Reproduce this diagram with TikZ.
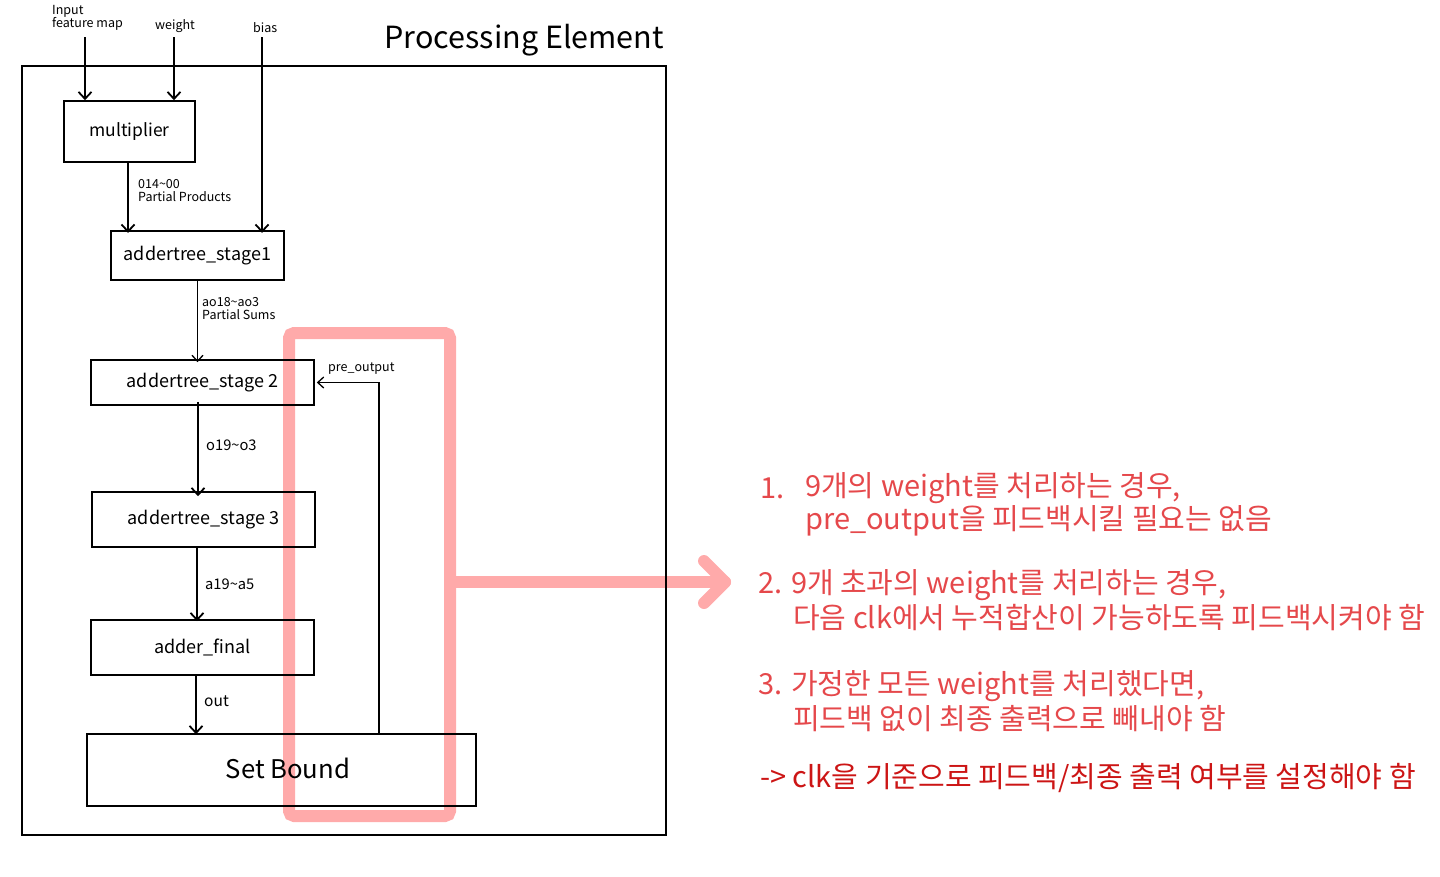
\documentclass[tikz,border=0pt]{standalone}
\usepackage{fontspec}
\setmainfont{Noto Sans CJK KR}
\usetikzlibrary{arrows.meta}
\definecolor{pinkhl}{HTML}{FFAAAA}
\definecolor{notered}{HTML}{E5484B}
\definecolor{darkred}{HTML}{CC1515}
\tikzset{
  blk/.style={draw=black, line width=1.6pt, inner sep=0pt, font=\fontsize{18}{21}\selectfont},
  arr/.style={line width=1.8pt, -{Straight Barb[length=7pt,width=13pt,line width=1.8pt]}},
  thinarr/.style={line width=1.3pt, -{Straight Barb[length=6pt,width=11pt,line width=1.3pt]}},
  lbl/.style={font=\fontsize{12.5}{14}\selectfont, anchor=west, inner sep=0pt, align=left},
  inlbl/.style={font=\fontsize{12.5}{14}\selectfont, inner sep=0pt, align=left},
  midlbl/.style={font=\fontsize{14.7}{16}\selectfont, anchor=west, inner sep=0pt},
  note/.style={font=\fontsize{29}{33}\selectfont, text=notered, anchor=west, inner sep=0pt},
  hl/.style={draw=pinkhl, line width=12pt, line cap=round, line join=round}
}
\begin{document}
\begin{tikzpicture}[x=1pt,y=-1pt]
\useasboundingbox (0,0) rectangle (1440,876);
% highlight (under black)
\node[draw=pinkhl, line width=12pt, rounded corners=5pt, minimum width=161pt, minimum height=483pt, inner sep=0pt] (hlbox) at (369.5,574.5) {};
\coordinate (hlS) at (456,582);
\coordinate (hlT) at (725,582);
\draw[hl] (hlS) -- (hlT);
\draw[hl] (704,561) -- (hlT) -- (704,603);
% outer frame
\node[draw=black, line width=1.8pt, minimum width=644pt, minimum height=769pt, inner sep=0pt] (pe) at (344,450.5) {};
\node[font=\fontsize{30.5}{33}\selectfont, anchor=east, inner sep=0pt] (title) at (664,40) {Processing Element};
% blocks
\node[blk, font=\fontsize{17.5}{20}\selectfont, minimum width=131pt, minimum height=61pt] (mult) at (129.5,131.5) {multiplier};
\node[blk, line width=2.4pt, minimum width=173pt, minimum height=49pt] (s1) at (197.5,255.5) {addertree\_stage1};
\node[blk, minimum width=223pt, minimum height=45pt] (s2) at (202.5,382.5) {addertree\_stage 2};
\node[blk, minimum width=223pt, minimum height=55pt] (s3) at (203.5,519.5) {addertree\_stage 3};
\node[blk, minimum width=223pt, minimum height=55pt] (fin) at (202.5,647.5) {adder\_final};
\node[blk, minimum width=389pt, minimum height=72pt] (sb) at (281.5,770) {};
\node[font=\fontsize{25.7}{28}\selectfont, inner sep=0pt] (sbt) at (288,768) {Set Bound};
% inputs
\node[inlbl, anchor=north west] (tin) at (52,5) {Input\\[-1pt]feature map};
\node[inlbl, anchor=west] (tw) at (155,26) {weight};
\node[inlbl, anchor=west] (tb) at (253,28) {bias};
\coordinate (inA) at (85,37);
\coordinate (inW) at (174,37);
\coordinate (inB) at (262,37);
\draw[arr] (inA) -- ([xshift=-44.5pt]mult.north);
\draw[arr] (inW) -- ([xshift=44.5pt]mult.north);
\draw[arr] (inB) -- ([xshift=64.5pt,yshift=-3pt]s1.north);
% chain
\draw[arr] ([xshift=-1.5pt]mult.south) -- ([xshift=-69.5pt,yshift=-3pt]s1.north);
\node[lbl] (l1) at (138,191) {014\textasciitilde 00\\[-1pt]Partial Products};
\draw[thinarr] (s1.south) -- ([yshift=-3pt]s1.south |- s2.north);
\node[lbl] (l2) at (202,309) {ao18\textasciitilde ao3\\[-1pt]Partial Sums};
\draw[arr] ([xshift=-4.5pt,yshift=4pt]s2.south) -- ([xshift=-4.5pt,yshift=-5pt]s2.south |- s3.north);
\node[midlbl] (l3) at (206,445) {o19\textasciitilde o3};
\draw[arr] ([xshift=-6.5pt]s3.south) -- ([xshift=-6.5pt,yshift=-2pt]s3.south |- fin.north);
\node[midlbl] (l4) at (205,584) {a19\textasciitilde a5};
\draw[arr] ([xshift=-6.5pt]fin.south) -- ([xshift=-6.5pt,yshift=-1pt]fin.south |- sb.north);
\node[midlbl, font=\fontsize{15.5}{17}\selectfont] (l5) at (204,701) {out};
% feedback
\draw[thinarr] ([xshift=97.5pt]sb.north) |- ([xshift=2pt]s2.east);
\node[lbl] (l6) at (328,369) {pre\_output};
% notes
\node[note] (n1a) at (760,488) {1.};
\node[note] (n1b) at (805,488) {9개의 weight를 처리하는 경우,};
\node[note] (n1c) at (805,521) {pre\_output을 피드백시킬 필요는 없음};
\node[note] (n2a) at (758,585) {2. 9개 초과의 weight를 처리하는 경우,};
\node[note] (n2b) at (793,618) {다음 clk에서 누적합산이 가능하도록 피드백시켜야 함};
\node[note] (n3a) at (758,686) {3. 가정한 모든 weight를 처리했다면,};
\node[note] (n3b) at (793,719) {피드백 없이 최종 출력으로 빼내야 함};
\node[note, text=darkred] (n4) at (760,778) {-> clk을 기준으로 피드백/최종 출력 여부를 설정해야 함};
\end{tikzpicture}
\end{document}
